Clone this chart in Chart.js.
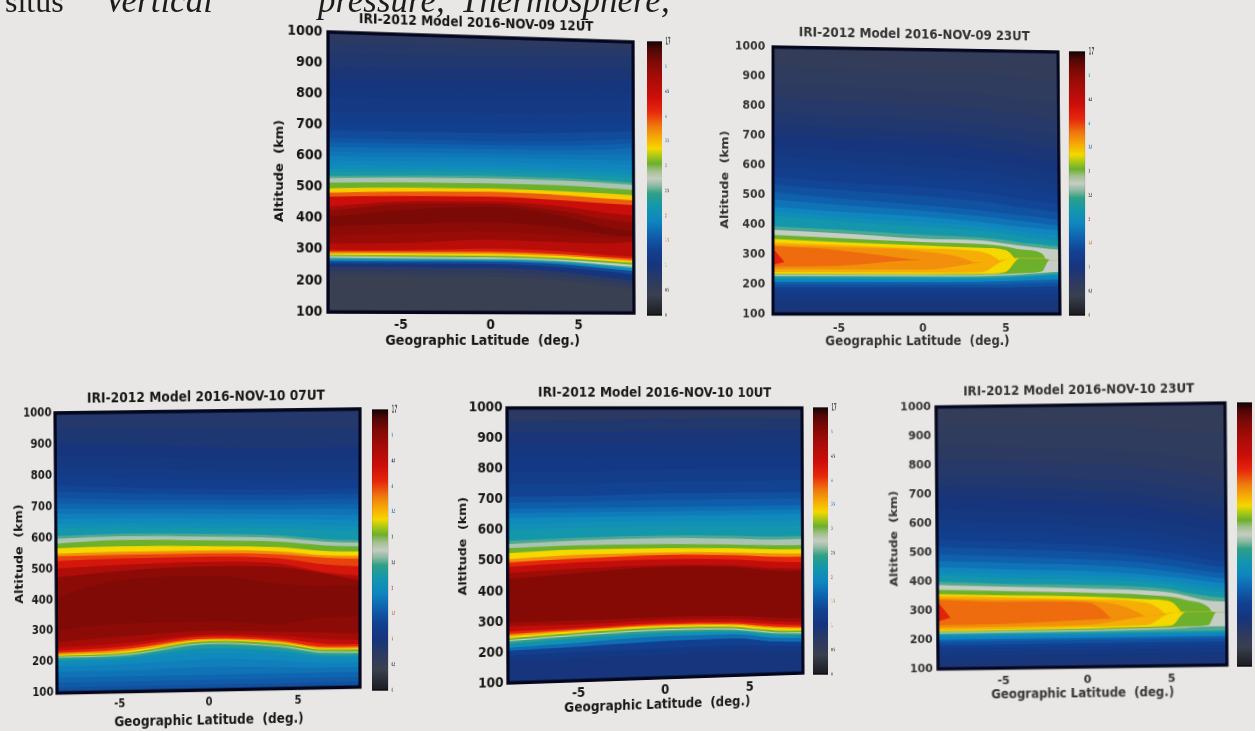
<!DOCTYPE html>
<html>
<head>
<meta charset="utf-8">
<title>IRI-2012 Model</title>
<script src="https://cdn.jsdelivr.net/npm/chart.js@4"></script>
<style>
html, body { margin: 0; padding: 0; width: 1255px; height: 731px; overflow: hidden; background: #e8e7e5; }
canvas { position: absolute; left: 0; top: 0; transform-origin: 0 0; filter: blur(0.6px); }
.page { position: absolute; font: 35px "Liberation Serif", serif; color: #1c1c1c; line-height: 1; white-space: nowrap; top: -17px; filter: blur(0.5px); }
.page.it { font-style: italic; }
</style>
</head>
<body>
<div class="page" style="left:5px;font-size:32px;top:-15px">situs</div>
<div class="page it" style="left:104px">Vertical</div>
<div class="page it" style="left:318px">pressure,</div>
<div class="page it" style="left:460px">Thermosphere,</div>
<script>
// latitudes of the columns read off each panel, then isolines bottom to top:
// value = colour of the band just below that line, altitudes = where the line sits (km)
const latitudes = [-9, -5, 0, 4, 6.5, 9];
const blobLatitudes = [-9, -5, 0, 3.5, 5, 5.9, 7.2, 7.7, 9];
const latTicks = [-5, 0, 5];
const altTicks = [100, 200, 300, 400, 500, 600, 700, 800, 900, 1000];
const barTicks = [0, 0.5, 1, 1.5, 2, 2.5, 3, 3.5, 4, 4.5, 5, 5.5];
const barLabels = ['0', '0.5', '1', '1.5', '2', '2.5', '3', '3.5', '4', '4.5', '5', '17'];
const barLabelColors = ['#666', '#444', '#7a7a30', '#b87a30', '#a03020', '#334', '#556', '#2f6fa8', '#1480b8', '#224', '#1e9a90', '#555'];

const colorValues = [0, 0.4, 0.7, 1.0, 1.3, 1.6, 1.9, 2.2, 2.45, 2.6, 2.75, 2.9, 3.05, 3.2, 3.35, 3.55, 3.8, 4.1, 4.4, 4.8, 5.1, 5.35, 5.5];
const colorStops = ['#1c1c20', '#3a4050', '#2c3a62', '#16357c', '#124090', '#0f60ad', '#0f86bf', '#1497ad', '#2fa085', '#8ab8a0', '#c6cdc4', '#a4c090', '#6cb02c', '#a8c818', '#f4d800', '#f6ae06', '#ef7a0e', '#e6270c', '#cc0e0a', '#a50c08', '#7f0a06', '#4e0806', '#180404'];

const p1Values = [0.42, 0.55, 0.7, 1.0, 1.4, 2.0, 2.5, 2.75, 3.05, 3.35, 3.8, 4.2, 4.6, 4.9, 5.0, 5.12, 5.0, 4.8, 4.4, 3.9, 3.4, 3.05, 2.68, 2.5, 2.25, 2.12, 2.0, 1.92, 1.85, 1.77, 1.7, 1.6, 1.5, 1.4, 1.3, 1.2, 1.1, 1.05, 1.0, 0.92, 0.85, 0.78, 0.7];
const p1Alts = [
  [218, 218, 217, 205, 190, 172], [232, 232, 231, 219, 204, 186], [245, 245, 245, 233, 218, 200],
  [256, 257, 258, 250, 238, 222], [264, 265, 266, 260, 248, 234], [270, 271, 271, 266, 256, 243],
  [275, 275, 275, 270, 260, 249], [279, 279, 280, 275, 266, 256], [283, 284, 285, 280, 272, 263],
  [288, 290, 292, 287, 278, 269], [294, 296, 298, 293, 284, 276], [298, 301, 308, 302, 291, 285],
  [320, 324, 338, 332, 330, 340], [345, 355, 365, 355, 350, 350], [375, 385, 395, 380, 360, 350],
  [405, 430, 445, 420, 385, 365], [425, 450, 455, 435, 410, 395], [438, 458, 462, 450, 432, 420],
  [470, 476, 478, 470, 462, 455], [483, 490, 494, 487, 478, 472], [497, 503, 505, 500, 495, 488],
  [515, 520, 522, 519, 513, 505], [530, 535, 538, 535, 530, 522], [537, 542, 546, 543, 537, 530],
  [550, 553, 558, 556, 552, 547], [560, 563, 567, 566, 563, 560], [572, 575, 578, 577, 575, 573],
  [585, 588, 591, 591, 590, 590], [600, 603, 606, 606, 606, 606], [615, 617, 620, 621, 623, 629],
  [630, 632, 634, 636, 640, 652], [645, 646, 647, 650, 656, 666], [660, 660, 660, 665, 672, 680],
  [684, 685, 686, 692, 698, 707], [710, 712, 714, 720, 725, 735], [748, 750, 753, 758, 764, 772],
  [790, 793, 796, 800, 806, 813], [820, 824, 828, 832, 838, 844], [850, 855, 860, 865, 870, 875],
  [890, 895, 900, 905, 910, 915], [930, 935, 940, 945, 950, 955], [965, 968, 970, 973, 975, 978],
  [1000, 1000, 1000, 1000, 1000, 1000]
];

const p2Values = [0.95, 1.02, 1.1, 1.2, 1.3, 1.45, 1.6, 1.9, 2.2, 2.5, 2.75, 3.05, 3.35, 3.55, 3.7, 3.85, 4.15, 3.85, 3.7, 3.55, 3.35, 3.05, 2.75, 2.5, 2.2, 2.05, 1.9, 1.75, 1.6, 1.47, 1.35, 1.25, 1.15, 1.07, 1.0, 0.92, 0.85, 0.77, 0.7, 0.62, 0.55];
const p2Alts = [
  [125, 125, 125, 125, 125, 125, 125, 125, 125], [145, 145, 145, 145, 145, 145, 145, 145, 145],
  [165, 165, 165, 165, 165, 165, 165, 165, 165], [178, 178, 178, 178, 178, 179, 180, 180, 180],
  [190, 190, 190, 190, 190, 191, 193, 194, 195], [200, 200, 200, 200, 201, 203, 205, 206, 207],
  [208, 208, 208, 209, 211, 213, 216, 217, 218], [218, 218, 218, 219, 221, 224, 228, 230, 232],
  [224, 224, 224, 225, 227, 230, 234, 237, 240], [228, 228, 228, 229, 232, 235, 240, 243, 246],
  [232, 232, 232, 233, 236, 239, 245, 285, 285], [235, 235, 235, 236, 243, 290, 290, 285, 285],
  [240, 240, 240, 242, 285, 290, 290, 285, 285], [250, 250, 250, 275, 285, 290, 290, 285, 285],
  [258, 262, 282, 275, 285, 290, 290, 285, 285], [264, 310, 282, 275, 285, 290, 290, 285, 285],
  [325, 100, 100, 100, 100, 100, 100, 100, 100], [328, 315, 262, 180, 180, 180, 180, 180, 180],
  [332, 325, 312, 262, 180, 180, 180, 180, 180], [340, 332, 322, 312, 265, 200, 200, 200, 200],
  [352, 342, 332, 325, 318, 270, 215, 215, 215], [366, 356, 344, 338, 330, 320, 307, 265, 240],
  [383, 372, 355, 350, 340, 333, 325, 322, 318], [395, 384, 368, 360, 352, 344, 337, 333, 330],
  [430, 412, 395, 383, 373, 365, 356, 353, 350], [445, 428, 412, 398, 388, 382, 373, 370, 367],
  [460, 445, 430, 413, 403, 398, 391, 388, 385], [485, 468, 450, 433, 424, 418, 410, 406, 402],
  [510, 490, 470, 453, 443, 437, 430, 425, 420], [535, 518, 500, 483, 472, 464, 456, 451, 447],
  [560, 545, 530, 513, 500, 492, 483, 479, 475], [595, 582, 565, 550, 538, 529, 519, 514, 510],
  [630, 620, 600, 587, 575, 567, 555, 550, 545], [665, 655, 640, 625, 612, 604, 592, 587, 582],
  [700, 690, 680, 663, 650, 642, 630, 625, 620], [740, 730, 720, 705, 693, 687, 675, 670, 665],
  [780, 770, 760, 748, 738, 732, 720, 715, 710], [830, 820, 810, 800, 790, 785, 773, 769, 765],
  [880, 870, 860, 852, 843, 838, 827, 823, 820], [940, 930, 925, 921, 915, 911, 905, 902, 900],
  [1000, 1000, 1000, 1000, 1000, 1000, 1000, 1000, 1000]
];

const p3Values = [1.45, 1.55, 1.65, 1.75, 1.85, 1.95, 2.05, 2.3, 2.5, 2.85, 3.05, 3.35, 3.7, 4.1, 4.5, 4.8, 5.0, 5.1, 5.0, 4.7, 4.3, 4.0, 3.7, 3.35, 3.05, 2.68, 2.5, 2.2, 2.07, 1.95, 1.85, 1.75, 1.65, 1.55, 1.45, 1.35, 1.25, 1.15, 1.07, 1.0, 0.9, 0.8];
const p3Alts = [
  [118, 118, 118, 118, 118, 118], [134, 134, 134, 134, 134, 134], [150, 150, 150, 150, 150, 150],
  [168, 168, 175, 170, 165, 165], [185, 188, 200, 192, 180, 180], [195, 198, 218, 207, 192, 190],
  [205, 208, 235, 222, 203, 200], [211, 214, 247, 232, 210, 208], [214, 217, 250, 236, 214, 212],
  [217, 220, 253, 239, 218, 216], [220, 224, 259, 246, 224, 222], [224, 229, 263, 250, 228, 226],
  [228, 236, 267, 255, 233, 232], [235, 245, 274, 262, 243, 240], [245, 256, 280, 272, 258, 252],
  [262, 278, 292, 285, 280, 272], [300, 320, 322, 310, 330, 330], [400, 460, 470, 440, 430, 430],
  [470, 490, 500, 495, 470, 440], [500, 510, 515, 505, 475, 458], [525, 530, 532, 522, 500, 490],
  [540, 542, 542, 535, 522, 516], [548, 552, 552, 545, 530, 526], [566, 570, 566, 558, 544, 540],
  [580, 590, 584, 576, 562, 556], [596, 602, 596, 588, 574, 568], [605, 610, 605, 596, 582, 576],
  [632, 630, 625, 620, 612, 606], [646, 645, 640, 635, 628, 622], [660, 660, 655, 650, 645, 640],
  [677, 675, 670, 665, 662, 657], [695, 690, 685, 680, 680, 675], [712, 705, 700, 695, 695, 692],
  [730, 720, 715, 710, 710, 710], [750, 740, 732, 727, 727, 727], [770, 760, 750, 745, 745, 745],
  [800, 790, 780, 772, 772, 772], [830, 820, 810, 800, 800, 800], [865, 858, 848, 840, 840, 840],
  [900, 895, 885, 880, 880, 880], [950, 945, 940, 938, 938, 938], [1000, 1000, 1000, 1000, 1000, 1000]
];

const p4Values = [1.0, 1.12, 1.3, 1.7, 2.1, 2.45, 2.75, 3.05, 3.35, 3.7, 4.1, 4.5, 4.85, 5.05, 4.85, 4.5, 4.1, 3.7, 3.35, 3.05, 2.68, 2.5, 2.2, 2.07, 1.95, 1.82, 1.7, 1.57, 1.45, 1.32, 1.2, 1.12, 1.05, 0.95, 0.85, 0.7];
const p4Alts = [
  [170, 175, 175, 180, 175, 175], [190, 195, 198, 202, 195, 190], [205, 212, 222, 225, 210, 205],
  [215, 225, 238, 238, 222, 218], [228, 240, 250, 248, 232, 228], [236, 248, 258, 254, 238, 233],
  [240, 252, 262, 258, 242, 237], [246, 258, 267, 263, 247, 243], [253, 264, 273, 270, 255, 250],
  [259, 268, 277, 274, 260, 255], [268, 274, 283, 280, 268, 262], [285, 285, 292, 290, 278, 272],
  [298, 298, 302, 300, 290, 285], [440, 455, 470, 465, 450, 445], [460, 470, 476, 470, 458, 454],
  [480, 490, 495, 490, 480, 475], [494, 503, 510, 505, 497, 494], [505, 515, 518, 514, 508, 505],
  [525, 533, 532, 528, 522, 520], [541, 547, 546, 540, 535, 534], [555, 563, 566, 560, 555, 556],
  [565, 572, 575, 570, 565, 565], [600, 605, 605, 600, 600, 600], [620, 622, 622, 620, 620, 620],
  [640, 640, 640, 640, 640, 640], [655, 655, 655, 655, 655, 655], [670, 670, 670, 670, 670, 670],
  [690, 690, 692, 692, 692, 692], [710, 710, 715, 715, 715, 715], [750, 750, 755, 755, 755, 755],
  [790, 790, 795, 795, 795, 795], [835, 835, 840, 840, 840, 840], [880, 880, 885, 885, 885, 885],
  [920, 920, 925, 925, 925, 925], [960, 960, 965, 965, 965, 965], [1000, 1000, 1000, 1000, 1000, 1000]
];

const p5Values = [0.95, 1.02, 1.1, 1.2, 1.3, 1.45, 1.6, 1.9, 2.2, 2.5, 2.75, 3.05, 3.35, 3.55, 3.7, 3.85, 4.15, 3.85, 3.7, 3.55, 3.35, 3.05, 2.75, 2.5, 2.2, 2.05, 1.9, 1.75, 1.6, 1.47, 1.35, 1.25, 1.15, 1.07, 1.0, 0.92, 0.85, 0.77, 0.7, 0.62, 0.55];
const p5Alts = [
  [125, 125, 125, 125, 125, 125, 125, 125, 125], [142, 142, 142, 142, 142, 142, 142, 142, 142],
  [158, 158, 158, 158, 158, 158, 158, 158, 158], [170, 170, 170, 170, 170, 170, 170, 170, 170],
  [182, 182, 182, 182, 182, 182, 182, 182, 182], [192, 192, 192, 192, 192, 192, 192, 192, 192],
  [200, 200, 200, 200, 200, 200, 200, 200, 200], [212, 212, 212, 212, 212, 212, 212, 212, 212],
  [219, 219, 219, 219, 219, 219, 219, 219, 219], [222, 223, 224, 226, 228, 230, 233, 233, 234],
  [226, 227, 228, 230, 232, 234, 238, 282, 282], [229, 230, 232, 235, 238, 285, 285, 282, 282],
  [234, 235, 238, 241, 282, 285, 285, 282, 282], [241, 242, 245, 272, 282, 285, 285, 282, 282],
  [250, 252, 262, 272, 282, 285, 285, 282, 282], [262, 320, 262, 272, 282, 285, 285, 282, 282],
  [335, 100, 100, 100, 100, 100, 100, 100, 100], [338, 328, 322, 170, 170, 170, 170, 170, 170],
  [342, 335, 327, 268, 170, 170, 170, 170, 170], [350, 343, 332, 318, 260, 190, 190, 190, 190],
  [358, 350, 342, 330, 320, 265, 205, 205, 205], [372, 365, 355, 345, 337, 325, 300, 262, 235],
  [389, 380, 370, 360, 351, 340, 322, 320, 318], [400, 390, 382, 372, 362, 350, 338, 334, 330],
  [425, 410, 400, 390, 380, 370, 358, 354, 350], [437, 425, 415, 402, 392, 384, 372, 368, 365],
  [450, 440, 430, 415, 405, 399, 389, 384, 380], [472, 462, 450, 435, 424, 417, 405, 401, 397],
  [495, 485, 470, 455, 443, 435, 423, 419, 415], [520, 510, 495, 478, 466, 458, 444, 439, 435],
  [545, 535, 520, 501, 489, 481, 465, 460, 455], [580, 568, 552, 534, 520, 512, 495, 490, 485],
  [615, 600, 585, 566, 552, 544, 525, 520, 515], [652, 640, 625, 606, 592, 583, 565, 560, 555],
  [690, 680, 665, 646, 632, 622, 605, 600, 595], [730, 720, 705, 688, 674, 665, 648, 643, 638],
  [770, 760, 745, 730, 716, 708, 690, 685, 680], [820, 810, 798, 783, 770, 763, 745, 740, 735],
  [870, 860, 850, 835, 823, 817, 800, 795, 790], [935, 930, 925, 917, 911, 908, 900, 897, 895],
  [1000, 1000, 1000, 1000, 1000, 1000, 1000, 1000, 1000]
];

// corners are top-left, top-right, bottom-right, bottom-left of the photographed plot
const panels = [
  { title: 'IRI-2012 Model 2016-NOV-09 12UT', lats: latitudes, values: p1Values, alts: p1Alts, xMin: -9, xMax: 8.2, tick: 13.5, xlab: 13.8, ylab: 13, head: 13.4, ink: '#141414',
    titleShift: -6, titleGap: 6, yPad: -2, xPad: -3, xlabGap: 3,
    plot: [[328, 32], [633, 42], [634, 313], [328, 312]], bar: [[647, 42], [662, 42], [662, 315], [647, 315]] },
  { title: 'IRI-2012 Model 2016-NOV-09 23UT', lats: blobLatitudes, values: p2Values, alts: p2Alts, xMin: -8.9, xMax: 8.3, tick: 12.5, xlab: 13.8, ylab: 13, head: 14, ink: '#333',
    titleShift: -2, titleGap: 7, yPad: 1, xPad: 0, xlabGap: -2,
    plot: [[773, 47], [1058, 52], [1060, 314], [773, 314]], bar: [[1069, 52], [1085, 52], [1085, 315], [1069, 315]] },
  { title: 'IRI-2012 Model 2016-NOV-10 07UT', lats: latitudes, values: p3Values, alts: p3Alts, xMin: -8.5, xMax: 8.5, tick: 11.5, xlab: 14, ylab: 12.6, head: 14, ink: '#181818',
    titleShift: -2, titleGap: 5, yPad: -4, xPad: -2, xlabGap: 5,
    plot: [[55, 413], [360, 409], [360, 687], [57, 693]], bar: [[372, 410], [388, 410], [388, 690], [372, 690]] },
  { title: 'IRI-2012 Model 2016-NOV-10 10UT', lats: latitudes, values: p4Values, alts: p4Alts, xMin: -9, xMax: 8.2, tick: 13.5, xlab: 13.8, ylab: 12.7, head: 13.9, ink: '#181818',
    titleShift: -1, titleGap: 7, yPad: -3, xPad: -3, xlabGap: 2,
    plot: [[507, 408], [802, 408], [803, 673], [508, 683]], bar: [[813, 408], [828, 408], [828, 674], [813, 674]] },
  { title: 'IRI-2012 Model 2016-NOV-10 23UT', lats: blobLatitudes, values: p5Values, alts: p5Alts, xMin: -8.9, xMax: 8.3, tick: 13, xlab: 13.8, ylab: 13, head: 14, ink: '#333',
    titleShift: -2, titleGap: 7, yPad: -2, xPad: -2, xlabGap: 1,
    plot: [[936, 407], [1225, 403], [1227, 665], [938, 669]], bar: [[1237, 403], [1252, 403], [1252, 666], [1237, 666]] }
];

function colorAt(v) {
  let i = 1;
  while (i < colorValues.length - 1 && colorValues[i] < v) i++;
  const t = Math.min(1, Math.max(0, (v - colorValues[i - 1]) / (colorValues[i] - colorValues[i - 1])));
  const a = parseInt(colorStops[i - 1].slice(1), 16), b = parseInt(colorStops[i].slice(1), 16);
  const mix = s => Math.round(((a >> s) & 255) * (1 - t) + ((b >> s) & 255) * t);
  return `rgb(${mix(16)},${mix(8)},${mix(0)})`;
}

// css matrix3d that sends the chart area rectangle onto the photographed quad
function quadTransform(area, quad) {
  const src = [[area.left, area.top], [area.right, area.top], [area.right, area.bottom], [area.left, area.bottom]];
  const m = [];
  src.forEach(([x, y], i) => {
    const [u, v] = quad[i];
    m.push([x, y, 1, 0, 0, 0, -x * u, -y * u, u]);
    m.push([0, 0, 0, x, y, 1, -x * v, -y * v, v]);
  });
  for (let c = 0; c < 8; c++) {
    let p = c;
    for (let r = c + 1; r < 8; r++) if (Math.abs(m[r][c]) > Math.abs(m[p][c])) p = r;
    [m[c], m[p]] = [m[p], m[c]];
    for (let r = 0; r < 8; r++) {
      if (r === c) continue;
      const f = m[r][c] / m[c][c];
      for (let k = c; k < 9; k++) m[r][k] -= f * m[c][k];
    }
  }
  const h = m.map((row, i) => row[8] / row[i]);
  return `matrix3d(${h[0]},${h[3]},0,${h[6]},${h[1]},${h[4]},0,${h[7]},0,0,1,0,${h[2]},${h[5]},0,1)`;
}

function frame(color, width) {
  return {
    id: 'frame',
    afterDatasetsDraw(chart) {
      const { ctx, chartArea: a } = chart;
      ctx.save();
      ctx.strokeStyle = color;
      ctx.lineWidth = width;
      ctx.strokeRect(a.left, a.top, a.right - a.left, a.bottom - a.top);
      ctx.restore();
    }
  };
}

// title sits over the plot, not over the whole canvas
function titleOverPlot(shift) {
  return {
    id: 'titleOverPlot',
    afterLayout(chart) {
      const t = chart.titleBlock, a = chart.chartArea;
      t.left = a.left + shift;
      t.right = a.right + shift;
    }
  };
}

function addCanvas(w, h) {
  const c = document.createElement('canvas');
  c.width = w;
  c.height = h;
  document.body.appendChild(c);
  return c;
}

panels.forEach(p => {
  const font = size => ({ family: '"DejaVu Sans"', size, weight: 'bold' });
  const canvas = addCanvas(440, 380);
  const chart = new Chart(canvas, {
    type: 'line',
    data: {
      datasets: p.alts.map((row, i) => ({
        data: row.map((a, j) => ({ x: p.lats[j], y: a })),
        fill: 'start',
        backgroundColor: colorAt(p.values[i]),
        borderWidth: 0,
        pointRadius: 0,
        cubicInterpolationMode: 'monotone'
      }))
    },
    options: {
      responsive: false,
      animation: false,
      layout: { padding: 20 },
      plugins: {
        legend: { display: false },
        tooltip: { enabled: false },
        title: { display: true, text: p.title, color: p.ink, font: font(p.head), padding: { top: 0, bottom: p.titleGap } }
      },
      scales: {
        x: {
          type: 'linear', min: p.xMin, max: p.xMax,
          afterBuildTicks: s => { s.ticks = latTicks.map(value => ({ value })); },
          grid: { display: false }, border: { display: false },
          ticks: { color: p.ink, font: font(p.tick), padding: p.xPad, maxRotation: 0, callback: v => String(v) },
          title: { display: true, text: 'Geographic Latitude  (deg.)', color: p.ink, font: font(p.xlab), padding: { top: p.xlabGap, bottom: 0 } }
        },
        y: {
          type: 'linear', min: 100, max: 1000,
          afterBuildTicks: s => { s.ticks = altTicks.map(value => ({ value })); },
          grid: { display: false }, border: { display: false },
          ticks: { color: p.ink, font: font(p.tick), padding: p.yPad, autoSkip: false, callback: v => String(v) },
          title: { display: true, text: 'Altitude  (km)', color: p.ink, font: font(p.ylab), padding: 2 }
        }
      }
    },
    plugins: [frame('#03061c', 3.5), titleOverPlot(p.titleShift)]
  });
  canvas.style.transform = quadTransform(chart.chartArea, p.plot);

  const barCanvas = addCanvas(80, 340);
  const bar = new Chart(barCanvas, {
    type: 'bar',
    data: {
      labels: [''],
      datasets: [{
        data: [[0, 5.5]],
        barPercentage: 1,
        categoryPercentage: 1,
        backgroundColor(c) {
          const { chart: b } = c;
          if (!b.chartArea) return '#000';
          const y = b.scales.y;
          const g = b.ctx.createLinearGradient(0, y.getPixelForValue(0), 0, y.getPixelForValue(5.5));
          colorValues.forEach((v, i) => g.addColorStop(v / 5.5, colorStops[i]));
          return g;
        }
      }]
    },
    options: {
      responsive: false,
      animation: false,
      layout: { padding: { top: 12, bottom: 12, left: 4, right: 4 } },
      plugins: { legend: { display: false }, tooltip: { enabled: false } },
      scales: {
        x: { display: false },
        y: {
          position: 'right', min: 0, max: 5.5,
          afterBuildTicks: s => { s.ticks = barTicks.map(value => ({ value })); },
          afterFit: s => { s.width = 26; },
          grid: { display: false }, border: { display: false },
          ticks: {
            padding: 2, autoSkip: false,
            callback: (v, i) => barLabels[i],
            color: c => barLabelColors[c.index],
            font: c => ({ family: '"DejaVu Sans"', weight: 'bold', size: c.index === 11 ? 12 : 6 })
          }
        }
      }
    },
    plugins: [frame('#0a0a10', 1.5)]
  });
  barCanvas.style.transform = quadTransform(bar.chartArea, p.bar);
});
</script>
</body>
</html>
